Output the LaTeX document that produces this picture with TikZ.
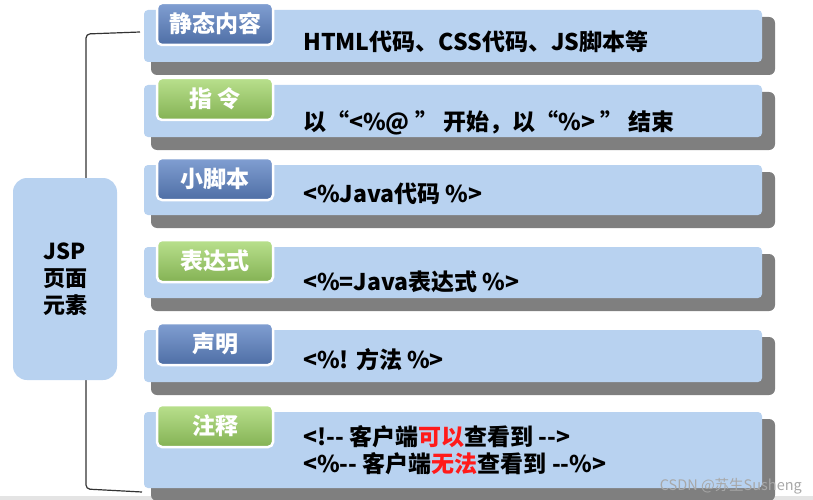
\documentclass[tikz,border=0pt]{standalone}
\usepackage{fontspec}
\setmainfont{Noto Sans CJK SC}
\definecolor{barblue}{HTML}{B8D2F0}
\definecolor{shadowc}{HTML}{7F7F7F}
\definecolor{bluetop}{HTML}{819FD2}
\definecolor{bluebot}{HTML}{4E6EA5}
\definecolor{greentop}{HTML}{B9E08D}
\definecolor{greenbot}{HTML}{84B254}
\definecolor{redtxt}{HTML}{FF1A1A}
\definecolor{bandc}{HTML}{E4E4E4}
\definecolor{bracketc}{HTML}{333333}
\definecolor{wmc}{HTML}{A8A8A8}
\newcommand\jsprow[5]{%
  \fill[shadowc, rounded corners=6pt] (151,#2+7) rectangle (775,#2+#3+13);
  \node[barbox, minimum height=#3pt, anchor=north west] (bar#1) at (144,#2) {};
  \node[#5, anchor=north west] (lab#1) at (157,#2-7) {#4};
}
\begin{document}
\begin{tikzpicture}[x=1pt,y=-1pt,
  barbox/.style={fill=barblue, rounded corners=4pt, minimum width=618pt, inner sep=0pt, outer sep=0pt},
  labbase/.style={draw=white, line width=2.5pt, rounded corners=5pt, minimum width=116pt, minimum height=42pt,
    inner sep=0pt, outer sep=0pt, text=white, font=\bfseries\fontsize{23}{27}\selectfont},
  bluelab/.style={labbase, top color=bluetop, bottom color=bluebot},
  greenlab/.style={labbase, top color=greentop, bottom color=greenbot},
  content/.style={anchor=west, inner sep=0pt, font=\bfseries\fontsize{23}{27}\selectfont, text=black},
  jspbox/.style={fill=barblue, rounded corners=14pt, minimum width=104pt, minimum height=202pt,
    inner sep=0pt, align=center, font=\bfseries\fontsize{22}{27}\selectfont},
  bracket/.style={draw=bracketc, line width=1.2pt, rounded corners=4pt},
  watermark/.style={anchor=east, inner sep=0pt, text=wmc, font=\fontsize{14.5}{16}\selectfont}
]
\useasboundingbox (0,0) rectangle (813,500);
\fill[bandc] (0,496) rectangle (813,500);

\jsprow{1}{10}{52}{静态内容}{bluelab}
\jsprow{2}{85}{52}{指 令}{greenlab}
\jsprow{3}{165}{50}{小脚本}{bluelab}
\jsprow{4}{247}{51}{表达式}{greenlab}
\jsprow{5}{330}{52}{声明}{bluelab}
\jsprow{6}{412}{76}{注释}{greenlab}

\node[content] (txt1) at (303,42) {HTML代码、CSS代码、JS脚本等};
\node[content] (txt2) at (303,123) {以“<\%@ ” 开始，以“\%> ” 结束};
\node[content] (txt3) at (303,194) {<\%Java代码 \%>};
\node[content] (txt4) at (303,282) {<\%=Java表达式 \%>};
\node[content] (txt5) at (303,360) {<\%! 方法 \%>};
\node[content] (txt6a) at (303,437) {<!-{}- 客户端\textcolor{redtxt}{可以}查看到 -{}->};
\node[content] (txt6b) at (303,464) {<\%-{}- 客户端\textcolor{redtxt}{无法}查看到 -{}-\%>};

\coordinate (bA) at (140,32);
\coordinate (bB) at (86,34);
\coordinate (bC) at (86,489);
\coordinate (bD) at (142,492);
\draw[bracket] (bA) -- (bB) -- (bC) -- (bD);

\node[jspbox] (jsp) at (65,279) {JSP\\页面\\元素};

\node[watermark] (wm) at (802,486) {CSDN @苏生Susheng};
\end{tikzpicture}
\end{document}
